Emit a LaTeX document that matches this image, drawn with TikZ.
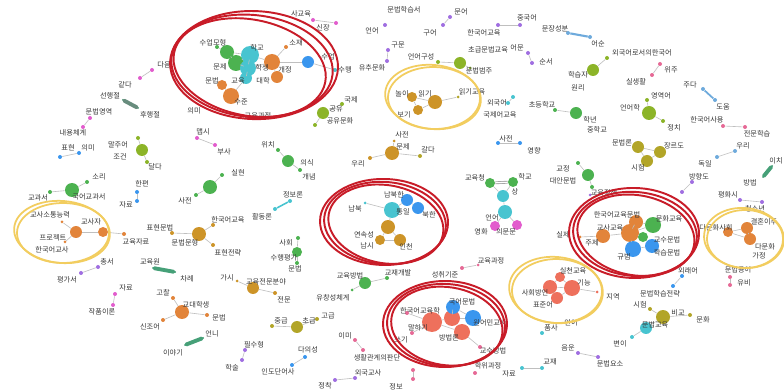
\documentclass[tikz,border=0pt]{standalone}
\usepackage{fontspec}
\newfontfamily\kr{Noto Sans CJK KR}
\definecolor{cg}{RGB}{76,178,80}
\definecolor{ct}{RGB}{72,196,208}
\definecolor{co}{RGB}{226,132,58}
\definecolor{cb}{RGB}{58,150,238}
\definecolor{col}{RGB}{178,165,40}
\definecolor{cgo}{RGB}{205,148,40}
\definecolor{ccr}{RGB}{238,112,92}
\definecolor{cpk}{RGB}{226,92,205}
\definecolor{cpu}{RGB}{160,110,225}
\definecolor{crs}{RGB}{230,105,150}
\definecolor{cyg}{RGB}{140,180,40}
\definecolor{cbl}{RGB}{110,170,220}
\definecolor{cbar}{RGB}{70,160,120}
\definecolor{ringred}{RGB}{200,28,40}
\definecolor{ringyel}{RGB}{242,205,95}
\newcommand\mkN[4]{\node[nd,fill=#3,minimum size=#4*0.04cm] (#1) at (#2) {};}
\newcommand\mkT[3]{\node[lbl] (#1) at (#2) {#3};}
\newcommand\mkE[2]{\draw[ed] (#1) -- (#2);}
\begin{document}
\begin{tikzpicture}[x=0.02cm,y=-0.02cm,
 nd/.style={circle,inner sep=0pt,draw=none},
 lbl/.style={font=\kr\fontsize{4.1}{4.6}\selectfont,text=black!78,inner sep=0pt},
 ed/.style={line width=0.35pt,draw=gray!50},
 bar/.style={line width=2.2pt,draw=cbar,line cap=round},
 redring/.style={draw=ringred,line width=1.1pt},
 yelring/.style={draw=ringyel,line width=1pt}]
\fill[white] (0,0) rectangle (784,391);
\useasboundingbox (0,0) rectangle (784,391);

% ---------- cluster A (top-left red ring)
\mkN{a1}{227,52}{cg}{7}
\mkN{a2}{236,63}{cg}{8}
\mkN{a3}{250,55}{ct}{9}
\mkN{a4}{248,68}{ct}{8}
\mkN{a5}{246,78}{ct}{6}
\mkN{a6}{272,62}{co}{8}
\mkN{a7}{277,77}{co}{6}
\mkN{a8}{222,85}{co}{5}
\mkN{a9}{231,96}{co}{8}
\mkN{a10}{286,47}{co}{2}
\mkN{a11}{308,62}{cb}{6}
\mkN{a12}{335,70}{ct}{2}
\mkN{a13}{217,47}{cg}{2}
\mkE{a1}{a2}\mkE{a1}{a3}\mkE{a2}{a3}\mkE{a2}{a4}\mkE{a3}{a4}\mkE{a4}{a5}
\mkE{a3}{a6}\mkE{a4}{a6}\mkE{a6}{a7}\mkE{a6}{a10}\mkE{a8}{a9}\mkE{a5}{a9}
\mkE{a6}{a11}\mkE{a11}{a12}\mkE{a1}{a13}
\mkT{ta1}{213,43}{수업모형}
\mkT{ta2}{257,48}{학교}
\mkT{ta3}{296,43}{소재}
\mkT{ta4}{220,67}{문제}
\mkT{ta5}{262,68}{학생}
\mkT{ta6}{285,70}{개정}
\mkT{ta7}{263,81}{대학}
\mkT{ta8}{212,81}{문법}
\mkT{ta9}{238,81}{교육}
\mkT{ta10}{241,102}{수준}
\mkT{ta11}{258,116}{교육과정}
\mkT{ta12}{194,111}{의미}
\mkT{ta13}{328,57}{수업}
\mkT{ta14}{345,70}{수행}

% ---------- top row
\mkN{p1}{313,20}{cpk}{2}\mkN{p2}{336,23}{cpk}{2}\mkE{p1}{p2}
\mkT{tp1}{301,14}{사교육}\mkT{tp2}{323,28}{신장}
\mkN{p3}{385,25}{cpu}{2}
\mkT{tp3}{372,31}{언어}\mkT{tp4}{404,10}{문법학습서}
\mkN{p4}{388,50}{cpu}{2}\mkN{p5}{387,61}{cpu}{2}\mkE{p4}{p5}
\mkT{tp5}{398,45}{구문}\mkT{tp6}{372,68}{유추문화}
\mkN{u1}{450,17}{cpu}{2}\mkN{u2}{443,25}{cpu}{2}\mkE{u1}{u2}
\mkT{tu1}{461,12}{문어}\mkT{tu2}{430,33}{구어}
\mkN{u3}{498,25}{cpu}{2}\mkN{u4}{520,25}{cpu}{2}\mkE{u3}{u4}
\mkT{tu3}{484,33}{한국어교육}\mkT{tu4}{527,18}{중국어}
\mkN{b1}{568,33}{cbl}{2}\mkN{b2}{590,37}{cbl}{2}
\draw[line width=1.2pt,draw=cbl] (b1) -- (b2);
\mkT{tb1}{555,29}{문장성분}\mkT{tb2}{598,44}{어순}
\mkN{g1}{460,63}{cyg}{6}\mkN{g1a}{438,62}{cyg}{2}\mkN{g1b}{470,68}{cyg}{1.5}
\mkE{g1a}{g1}\mkE{g1}{g1b}
\mkT{tg1}{421,57}{언어구성}\mkT{tg2}{488,50}{초급문법교육}\mkT{tg3}{479,71}{문법범주}
\mkN{u5}{528,53}{cpu}{2}\mkN{u6}{532,63}{cpu}{2}\mkE{u5}{u6}
\mkT{tu5}{517,48}{어문}\mkT{tu6}{546,62}{순서}
\mkN{g2}{593,70}{cyg}{6}\mkN{g2a}{607,58}{cyg}{2}\mkE{g2}{g2a}
\mkT{tg4}{578,75}{학습자}\mkT{tg5}{578,88}{원리}\mkT{tg6}{642,53}{외국어로서의한국어}
\mkN{r1}{660,64}{crs}{2}\mkN{r2}{652,75}{crs}{2}\mkE{r1}{r2}
\mkT{tr1}{671,70}{위주}\mkT{tr2}{636,82}{실생활}
\mkN{g3}{649,113}{cyg}{7}\mkN{g3a}{647,100}{cyg}{2}\mkN{g3b}{663,121}{cyg}{2}
\mkE{g3}{g3a}\mkE{g3}{g3b}
\mkT{tg7}{661,96}{영역어}\mkT{tg8}{630,108}{언어학}\mkT{tg9}{674,128}{정치}
\mkN{b3}{703,89}{cbl}{2}\mkN{b4}{715,100}{cbl}{2}
\draw[line width=1pt,draw=cbl] (b3) -- (b4);
\mkT{tb3}{690,85}{주다}\mkT{tb4}{723,107}{도움}
\mkN{r3}{723,126}{crs}{2}\mkN{r4}{745,127}{crs}{2}\mkE{r3}{r4}
\mkT{tr3}{707,120}{한국어사용}\mkT{tr4}{757,134}{전문학습}
\mkN{o1}{638,147}{col}{6}\mkN{o2}{660,152}{col}{6}\mkN{o3}{647,161}{col}{6}
\mkE{o1}{o2}\mkE{o1}{o3}\mkE{o2}{o3}
\mkT{to1}{622,143}{문법론}\mkT{to2}{674,146}{장르도}\mkT{to3}{638,168}{시험}
\mkN{b5}{735,151}{cbl}{2}\mkN{b6}{717,157}{cbl}{2}\mkE{b5}{b6}
\mkT{tb5}{743,146}{우리}\mkT{tb6}{705,164}{독일}
\mkN{k1}{763,177}{cbar}{1}\mkN{k2}{772,166}{cbar}{1}\draw[bar] (k1) -- (k2);
\node[lbl,anchor=east] (tk1) at (783,161) {이치};
\mkT{tk2}{750,183}{방법}
\mkN{u7}{692,182}{cpu}{2}\mkN{u8}{682,192}{cpu}{2}\mkE{u7}{u8}
\mkT{tu7}{699,177}{방향도}
\mkN{u9}{740,200}{cpu}{2}\mkN{u10}{762,202}{cpu}{2}\mkE{u9}{u10}
\mkT{tu9}{728,195}{평화시}\mkT{tu10}{755,209}{청소년}

% ---------- Y1 ring cluster
\mkN{y1}{412,97}{cgo}{5}\mkN{y2}{435,102}{cgo}{7}\mkN{y3}{418,110}{cgo}{5}\mkN{y4}{458,97}{col}{1.5}
\mkE{y1}{y2}\mkE{y1}{y3}\mkE{y2}{y3}\mkE{y2}{y4}
\mkT{ty1}{402,94}{놀이}\mkT{ty2}{425,94}{읽기}\mkT{ty3}{404,115}{보기}\mkT{ty4}{472,92}{읽기교육}

\mkN{g4}{323,113}{cyg}{6}\mkN{g4a}{342,104}{cyg}{2}\mkN{g4b}{315,125}{cyg}{2}
\mkE{g4}{g4a}\mkE{g4}{g4b}
\mkT{tg13}{351,100}{국제}\mkT{tg14}{336,109}{공유}\mkT{tg15}{340,121}{공유문화}
\mkN{t1}{513,97}{ct}{2}\mkN{t2}{508,103}{ct}{2}\mkE{t1}{t2}
\mkT{tt1}{497,103}{외국어}\mkT{tt2}{500,115}{국제어교육}
\mkN{g5}{576,113}{cg}{6}\mkN{g5a}{555,110}{cg}{2}\mkE{g5}{g5a}
\mkT{tg16}{542,105}{초등학교}\mkT{tg17}{590,120}{학년}\mkT{tg18}{597,130}{중학교}
\mkN{b7}{498,143}{cb}{2}\mkN{b8}{520,143}{cb}{2}\mkE{b7}{b8}
\mkT{tb7}{506,139}{사전}\mkT{tb8}{534,151}{영향}

% ---------- middle cluster
\mkN{m1}{490,183}{cg}{5}\mkN{m2}{513,182}{cg}{5}\mkN{m3}{503,196}{ct}{6}
\mkN{m4}{505,212}{ct}{7}\mkN{m5}{495,226}{cpk}{5}\mkN{m6}{517,225}{cpk}{5}
\draw[double=white,double distance=0.6pt,draw=gray!70,line width=0.5pt] (m1) -- (m2);
\mkE{m1}{m3}\mkE{m2}{m3}\mkE{m3}{m4}\mkE{m4}{m5}\mkE{m4}{m6}
\mkT{tm1}{475,178}{교육청}\mkT{tm2}{525,177}{학교}\mkT{tm3}{515,192}{상}
\mkT{tm4}{492,218}{언어}\mkT{tm5}{481,232}{영화}\mkT{tm6}{506,232}{의문문}
\mkN{g6}{588,175}{cg}{6}\mkN{g6a}{578,163}{cg}{2}\mkN{g6b}{592,187}{cg}{2}
\mkE{g6}{g6a}\mkE{g6}{g6b}
\mkT{tg19}{563,169}{교정}\mkT{tg20}{563,181}{대안문법}
\mkN{c1}{392,153}{cgo}{7}\mkN{c1a}{394,141}{cgo}{1.5}\mkN{c1b}{420,156}{col}{2}\mkN{c1c}{370,158}{cgo}{2}
\mkE{c1}{c1a}\mkE{c1}{c1b}\mkE{c1}{c1c}
\mkT{tc1}{402,135}{사전}\mkT{tc2}{403,147}{문제}\mkT{tc3}{428,150}{갈다}\mkT{tc4}{358,164}{우리}
\mkN{g7}{288,161}{cg}{6}\mkN{g7a}{278,150}{cg}{2}\mkN{g7b}{300,170}{cg}{2}
\mkE{g7}{g7a}\mkE{g7}{g7b}
\mkT{tg21}{268,145}{위치}\mkT{tg22}{307,163}{의식}\mkT{tg23}{309,177}{개념}
\mkN{t3}{290,201}{ct}{2}\mkN{t4}{275,209}{ct}{2}
\draw[line width=0.9pt,draw=ct] (t3) -- (t4);
\mkT{tt3}{293,195}{정보론}\mkT{tt4}{262,217}{활동론}
\mkN{r5}{197,138}{cpk}{2}\mkN{r6}{215,145}{cpk}{2}\mkE{r5}{r6}
\mkT{tr5}{203,132}{맵시}\mkT{tr6}{224,152}{부사}
\mkN{g8}{210,187}{cg}{7}\mkN{g8a}{222,175}{cg}{2}\mkN{g8b}{196,195}{cg}{2}
\mkE{g8}{g8a}\mkE{g8}{g8b}
\mkT{tg24}{238,173}{실현}\mkT{tg25}{185,201}{사전}

% ---------- left side
\mkN{o4}{142,150}{cyg}{6}\mkN{o4a}{138,138}{cyg}{2}\mkN{o4b}{147,162}{cyg}{2}
\mkE{o4}{o4a}\mkE{o4}{o4b}
\mkT{to4}{118,145}{말주어}\mkT{to5}{120,157}{조건}\mkT{to6}{155,167}{달다}
\mkN{b9}{60,157}{cb}{2}\mkN{b10}{79,153}{cb}{2}\mkE{b9}{b10}
\mkT{tb9}{68,148}{표현}\mkT{tb10}{88,148}{의미}
\mkN{r7}{152,70}{cpk}{2}\mkN{r8}{140,78}{cpk}{2}\mkE{r7}{r8}
\mkT{tr7}{164,65}{다음}\mkT{tr8}{125,85}{같다}
\mkN{k3}{123,100}{cbar}{1}\mkN{k4}{138,108}{cbar}{1}
\draw[bar,draw=gray!60!cbar] (k3) -- (k4);
\mkT{tk3}{110,96}{선행절}\mkT{tk4}{150,115}{후행절}
\mkN{r9}{90,118}{cpk}{2}\mkN{r10}{83,127}{cpk}{2}\mkE{r9}{r10}
\mkT{tr9}{99,112}{문법영역}\mkT{tr10}{73,133}{내용체계}
\mkN{b11}{137,192}{cb}{2}\mkN{b12}{137,201}{cb}{2}\mkE{b11}{b12}
\mkT{tb11}{142,184}{한편}\mkT{tb12}{126,205}{자료}
\mkN{g9}{72,190}{cg}{7}\mkN{g9a}{87,182}{cg}{2}\mkN{g9b}{50,192}{cg}{2}
\mkE{g9}{g9a}\mkE{g9}{g9b}
\mkT{tg26}{99,177}{소리}\mkT{tg27}{38,198}{교과서}\mkT{tg28}{89,197}{국어교과서}

% ---------- Y2 ring cluster
\mkN{y5}{76,232}{co}{6}\mkN{y6}{103,232}{co}{5}\mkN{y7}{62,222}{co}{1.5}\mkN{y8}{65,242}{co}{1.5}\mkN{y9}{124,234}{co}{2}
\mkE{y5}{y6}\mkE{y5}{y7}\mkE{y5}{y8}\mkE{y6}{y9}
\mkT{ty5}{50,215}{교사소통능력}\mkT{ty6}{91,222}{교사자}\mkT{ty7}{53,238}{프로젝트}
\mkT{ty8}{52,250}{한국어교사}\mkT{ty9}{136,242}{교육자료}
\mkN{u11}{98,267}{cpu}{2}\mkN{u12}{81,273}{cpu}{2}\mkE{u11}{u12}
\mkT{tu11}{107,262}{총서}\mkT{tu12}{67,280}{평가서}
\mkN{r11}{115,294}{cpk}{2}\mkN{r12}{113,305}{cpk}{2}\mkE{r11}{r12}
\mkT{tr11}{126,288}{자료}\mkT{tr12}{102,312}{작품이론}
\mkN{k5}{153,268}{cbar}{1}\mkN{k6}{175,272}{cbar}{1}\draw[bar] (k5) -- (k6);
\mkT{tk5}{150,262}{교육원}\mkT{tk6}{187,279}{차례}
\mkN{o5}{199,234}{cgo}{7}\mkN{o5a}{172,233}{cgo}{2}\mkN{o5b}{213,225}{cgo}{2}\mkN{o5c}{213,245}{cgo}{2}
\mkE{o5}{o5a}\mkE{o5}{o5b}\mkE{o5}{o5c}
\mkT{to7}{160,228}{표현문법}\mkT{to8}{185,243}{문법문형}\mkT{to9}{228,220}{한국어교육}\mkT{to10}{228,253}{표현전략}
\mkN{c2}{182,312}{co}{7}\mkN{c2a}{173,298}{co}{2}\mkN{c2b}{207,315}{co}{2}\mkN{c2c}{163,320}{co}{2}
\mkE{c2}{c2a}\mkE{c2}{c2b}\mkE{c2}{c2c}
\mkT{tc5}{163,293}{고찰}\mkT{tc6}{196,305}{교대학생}\mkT{tc7}{219,318}{문법}\mkT{tc8}{150,327}{신조어}
\mkN{k7}{185,345}{cbar}{1}\mkN{k8}{203,338}{cbar}{1}\draw[bar] (k7) -- (k8);
\mkT{tk7}{173,353}{이야기}\mkT{tk8}{212,334}{언니}
\mkN{u13}{245,350}{cpu}{2}\mkN{u14}{242,360}{cpu}{2}\mkE{u13}{u14}
\mkT{tu13}{254,345}{필수형}\mkT{tu14}{232,368}{학술}
\mkN{g10}{297,252}{cg}{5}\mkN{g10a}{298,238}{cg}{2}\mkN{g10b}{297,263}{cg}{2}
\mkE{g10}{g10a}\mkE{g10}{g10b}
\mkT{tg29}{286,243}{사회}\mkT{tg30}{284,258}{수행평가}\mkT{tg31}{295,269}{문법}
\mkN{o6}{253,288}{cgo}{6}\mkN{o6a}{237,281}{cgo}{1.5}\mkN{o6b}{275,293}{cgo}{2}
\mkE{o6}{o6a}\mkE{o6}{o6b}
\mkT{to11}{227,278}{가시}\mkT{to12}{266,282}{교육전문분야}\mkT{to13}{284,300}{전문}
\mkN{g11}{365,283}{cg}{6}\mkN{g11a}{387,278}{cg}{2}\mkN{g11b}{352,290}{cg}{1.5}
\mkE{g11}{g11a}\mkE{g11}{g11b}
\mkT{tg32}{350,276}{교육방법}\mkT{tg33}{398,273}{교재개발}\mkT{tg34}{333,298}{유창성체계}
\mkN{o7}{297,327}{col}{6}\mkN{o7a}{272,326}{col}{2}\mkN{o7b}{317,319}{col}{2}
\mkE{o7}{o7a}\mkE{o7}{o7b}
\mkT{to14}{281,321}{중급}\mkT{to15}{309,321}{초급}\mkT{to16}{328,316}{고급}
\mkN{b13}{305,357}{cb}{2}\mkN{b14}{292,365}{cb}{2}\mkE{b13}{b14}
\mkT{tb13}{308,350}{다의성}\mkT{tb14}{278,372}{인도단어사}
\mkN{r13}{355,340}{crs}{2}\mkN{r14}{363,350}{crs}{2}\mkE{r13}{r14}
\mkT{tr13}{345,336}{이미}\mkT{tr14}{377,358}{생활관계의판단}
\mkN{u15}{335,380}{cpu}{2}\mkN{u16}{355,378}{cpu}{2}\mkE{u15}{u16}
\mkT{tu15}{325,386}{정착}\mkT{tu16}{368,373}{외국교사}
\mkN{r15}{413,370}{crs}{2}\mkN{r16}{413,379}{crs}{2}\mkE{r15}{r16}
\mkT{tr15}{396,387}{정보}

% ---------- R2 ring cluster
\mkN{f1}{392,210}{ct}{8}\mkN{f2}{407,200}{cb}{6}\mkN{f3}{418,208}{cb}{6}
\mkN{f4}{388,227}{cgo}{7}\mkN{f5}{380,240}{cgo}{5}\mkN{f6}{400,240}{cgo}{6}\mkN{f7}{365,203}{ct}{1.5}
\mkE{f1}{f2}\mkE{f2}{f3}\mkE{f1}{f4}\mkE{f4}{f5}\mkE{f4}{f6}\mkE{f5}{f6}\mkE{f1}{f7}
\mkT{tf1}{355,209}{남북}\mkT{tf2}{394,195}{남북한}\mkT{tf3}{403,212}{통일}\mkT{tf4}{429,215}{북한}
\mkT{tf5}{364,235}{연속성}\mkT{tf6}{367,246}{남시}\mkT{tf7}{406,247}{인천}

% ---------- R3 ring cluster
\mkN{e1}{432,322}{ccr}{10}\mkN{e2}{452,318}{ccr}{8}\mkN{e3}{453,307}{cb}{7}\mkN{e4}{473,318}{cb}{8}
\mkN{e5}{462,332}{ccr}{8}\mkN{e6}{407,313}{crs}{2}\mkN{e7}{412,333}{crs}{2}\mkN{e8}{480,347}{crs}{2}
\mkE{e1}{e2}\mkE{e2}{e3}\mkE{e2}{e5}\mkE{e3}{e4}\mkE{e2}{e4}\mkE{e1}{e5}\mkE{e1}{e6}\mkE{e1}{e7}\mkE{e5}{e8}
\mkT{te1}{420,311}{한국어교육학}\mkT{te2}{462,302}{국어문법}\mkT{te3}{490,323}{원어민교사}
\mkT{te4}{418,328}{말하기}\mkT{te5}{401,340}{쓰기}\mkT{te6}{449,338}{방법론}\mkT{te7}{493,351}{교수방법}
\mkN{e9}{462,268}{crs}{2}\mkN{e10}{478,265}{crs}{1.5}\mkE{e9}{e10}
\mkT{te8}{445,275}{성취기준}\mkT{te9}{491,261}{교육과정}
\mkN{e11}{475,373}{crs}{2}
\mkT{te10}{488,366}{학위과정}
\mkN{t5}{522,368}{ct}{2}\mkN{t6}{542,368}{ct}{2}\mkE{t5}{t6}
\mkT{tt5}{509,374}{자료}\mkT{tt6}{550,362}{교재}

% ---------- R4 ring cluster
\mkN{h1}{630,233}{co}{9}\mkN{h2}{636,222}{co}{7}\mkN{h3}{603,236}{co}{7}\mkN{h4}{653,225}{cg}{8}
\mkN{h5}{643,237}{cg}{5}\mkN{h6}{633,249}{cb}{8}\mkN{h7}{652,246}{cb}{7}\mkN{h8}{580,237}{co}{1.5}
\mkE{h1}{h2}\mkE{h1}{h3}\mkE{h1}{h4}\mkE{h1}{h5}\mkE{h1}{h6}\mkE{h5}{h7}\mkE{h6}{h7}\mkE{h2}{h4}\mkE{h3}{h8}
\mkT{th1}{617,215}{한국어교육문법}\mkT{th2}{610,228}{교사교육}\mkT{th3}{669,219}{문화교육}
\mkT{th4}{667,240}{교수문법}\mkT{th5}{667,253}{학습문법}\mkT{th6}{624,257}{규범}
\mkT{th7}{592,243}{주제}\mkT{th8}{563,235}{실제}
\mkN{h9}{590,195}{cpu}{1.5}
\mkT{th9}{604,193}{교육정책}

% ---------- Y3 ring cluster
\mkN{v1}{728,232}{co}{5}\mkN{v2}{747,228}{co}{6}\mkN{v3}{750,239}{co}{6}
\mkE{v1}{v2}\mkE{v1}{v3}\mkE{v2}{v3}
\mkT{tv1}{716,228}{다문화사회}\mkT{tv2}{764,222}{결혼이주}\mkT{tv3}{765,247}{다문화}\mkT{tv4}{759,256}{가정}
\mkN{r17}{730,277}{crs}{2}\mkN{r18}{730,285}{crs}{2}\mkE{r17}{r18}
\mkT{tr17}{738,270}{문법용어}\mkT{tr18}{744,283}{유비}

% ---------- Y4 ring cluster
\mkN{w1}{560,277}{ccr}{5}\mkN{w2}{550,287}{ccr}{7}\mkN{w3}{572,288}{ccr}{8}\mkN{w4}{557,298}{ccr}{6}\mkN{w5}{597,292}{ccr}{1.5}
\mkE{w1}{w2}\mkE{w1}{w3}\mkE{w2}{w3}\mkE{w2}{w4}\mkE{w3}{w4}\mkE{w3}{w5}
\mkT{tw1}{573,271}{실천교육}\mkT{tw2}{584,283}{기능}\mkT{tw3}{535,293}{사회방언}\mkT{tw4}{543,305}{표준어}\mkT{tw5}{613,297}{지역}
\mkN{t7}{542,333}{ct}{2}
\mkT{tt7}{551,328}{품사}\mkT{tt8}{571,323}{언어}
\mkN{b15}{682,276}{cb}{2}\mkN{b16}{673,286}{cb}{2}\mkE{b15}{b16}
\mkT{tb15}{688,271}{외래어}\mkT{tb16}{660,294}{문법학습전략}
\mkN{o8}{663,317}{col}{7}\mkN{o8a}{650,309}{col}{2}\mkN{o8b}{690,315}{col}{2}
\mkE{o8}{o8a}\mkE{o8}{o8b}
\mkT{to17}{640,305}{시험}\mkT{to18}{678,313}{비교}\mkT{to19}{703,320}{문화}
\mkN{t9}{646,328}{ct}{6}\mkN{t9a}{632,337}{ct}{2}
\mkE{t9}{t9a}\mkE{t9}{o8}
\mkT{tt9}{655,325}{문법교육}\mkT{tt10}{620,344}{변이}
\mkN{u17}{578,353}{cpu}{2}\mkN{u18}{598,357}{cpu}{2}\mkE{u17}{u18}
\mkT{tu17}{568,348}{음운}\mkT{tu18}{610,364}{문법요소}

% ---------- hand-drawn rings
\coordinate (R1) at (252,66);
\draw[redring,rotate around={-6:(R1)}] (R1) ellipse [x radius=81,y radius=51];
\draw[redring,rotate around={-11:(R1)}] ([shift={(-2,2)}]R1) ellipse [x radius=77,y radius=48];
\draw[redring,rotate around={-2:(R1)}] ([shift={(2,-1)}]R1) ellipse [x radius=84,y radius=54];
\coordinate (R2) at (385,223);
\draw[redring,rotate around={-5:(R2)}] (R2) ellipse [x radius=61,y radius=41];
\draw[redring,rotate around={-10:(R2)}] ([shift={(1,1)}]R2) ellipse [x radius=58,y radius=39];
\draw[redring,rotate around={-1:(R2)}] ([shift={(-1,-1)}]R2) ellipse [x radius=64,y radius=43];
\coordinate (R3) at (446,325);
\draw[redring,rotate around={-4:(R3)}] (R3) ellipse [x radius=59,y radius=41];
\draw[redring,rotate around={-9:(R3)}] ([shift={(1,1)}]R3) ellipse [x radius=56,y radius=39];
\draw[redring,rotate around={0:(R3)}] ([shift={(-1,-1)}]R3) ellipse [x radius=62,y radius=43];
\coordinate (R4) at (635,234);
\draw[redring,rotate around={-5:(R4)}] (R4) ellipse [x radius=62,y radius=42];
\draw[redring,rotate around={-10:(R4)}] ([shift={(1,1)}]R4) ellipse [x radius=59,y radius=40];
\draw[redring,rotate around={-1:(R4)}] ([shift={(-1,-1)}]R4) ellipse [x radius=65,y radius=45];
\coordinate (Y1) at (433,97);
\draw[yelring,rotate around={-6:(Y1)}] (Y1) ellipse [x radius=48,y radius=32];
\draw[yelring,rotate around={-1:(Y1)}] ([shift={(1,1)}]Y1) ellipse [x radius=46,y radius=31];
\coordinate (Y2) at (62,232);
\draw[yelring,rotate around={-5:(Y2)}] (Y2) ellipse [x radius=48,y radius=31];
\draw[yelring,rotate around={0:(Y2)}] ([shift={(1,1)}]Y2) ellipse [x radius=46,y radius=30];
\coordinate (Y3) at (744,238);
\draw[yelring,rotate around={-5:(Y3)}] (Y3) ellipse [x radius=40,y radius=30];
\draw[yelring,rotate around={0:(Y3)}] ([shift={(1,1)}]Y3) ellipse [x radius=38,y radius=29];
\coordinate (Y4) at (556,290);
\draw[yelring,rotate around={-6:(Y4)}] (Y4) ellipse [x radius=47,y radius=33];
\draw[yelring,rotate around={-1:(Y4)}] ([shift={(1,1)}]Y4) ellipse [x radius=45,y radius=32];
\end{tikzpicture}
\end{document}
